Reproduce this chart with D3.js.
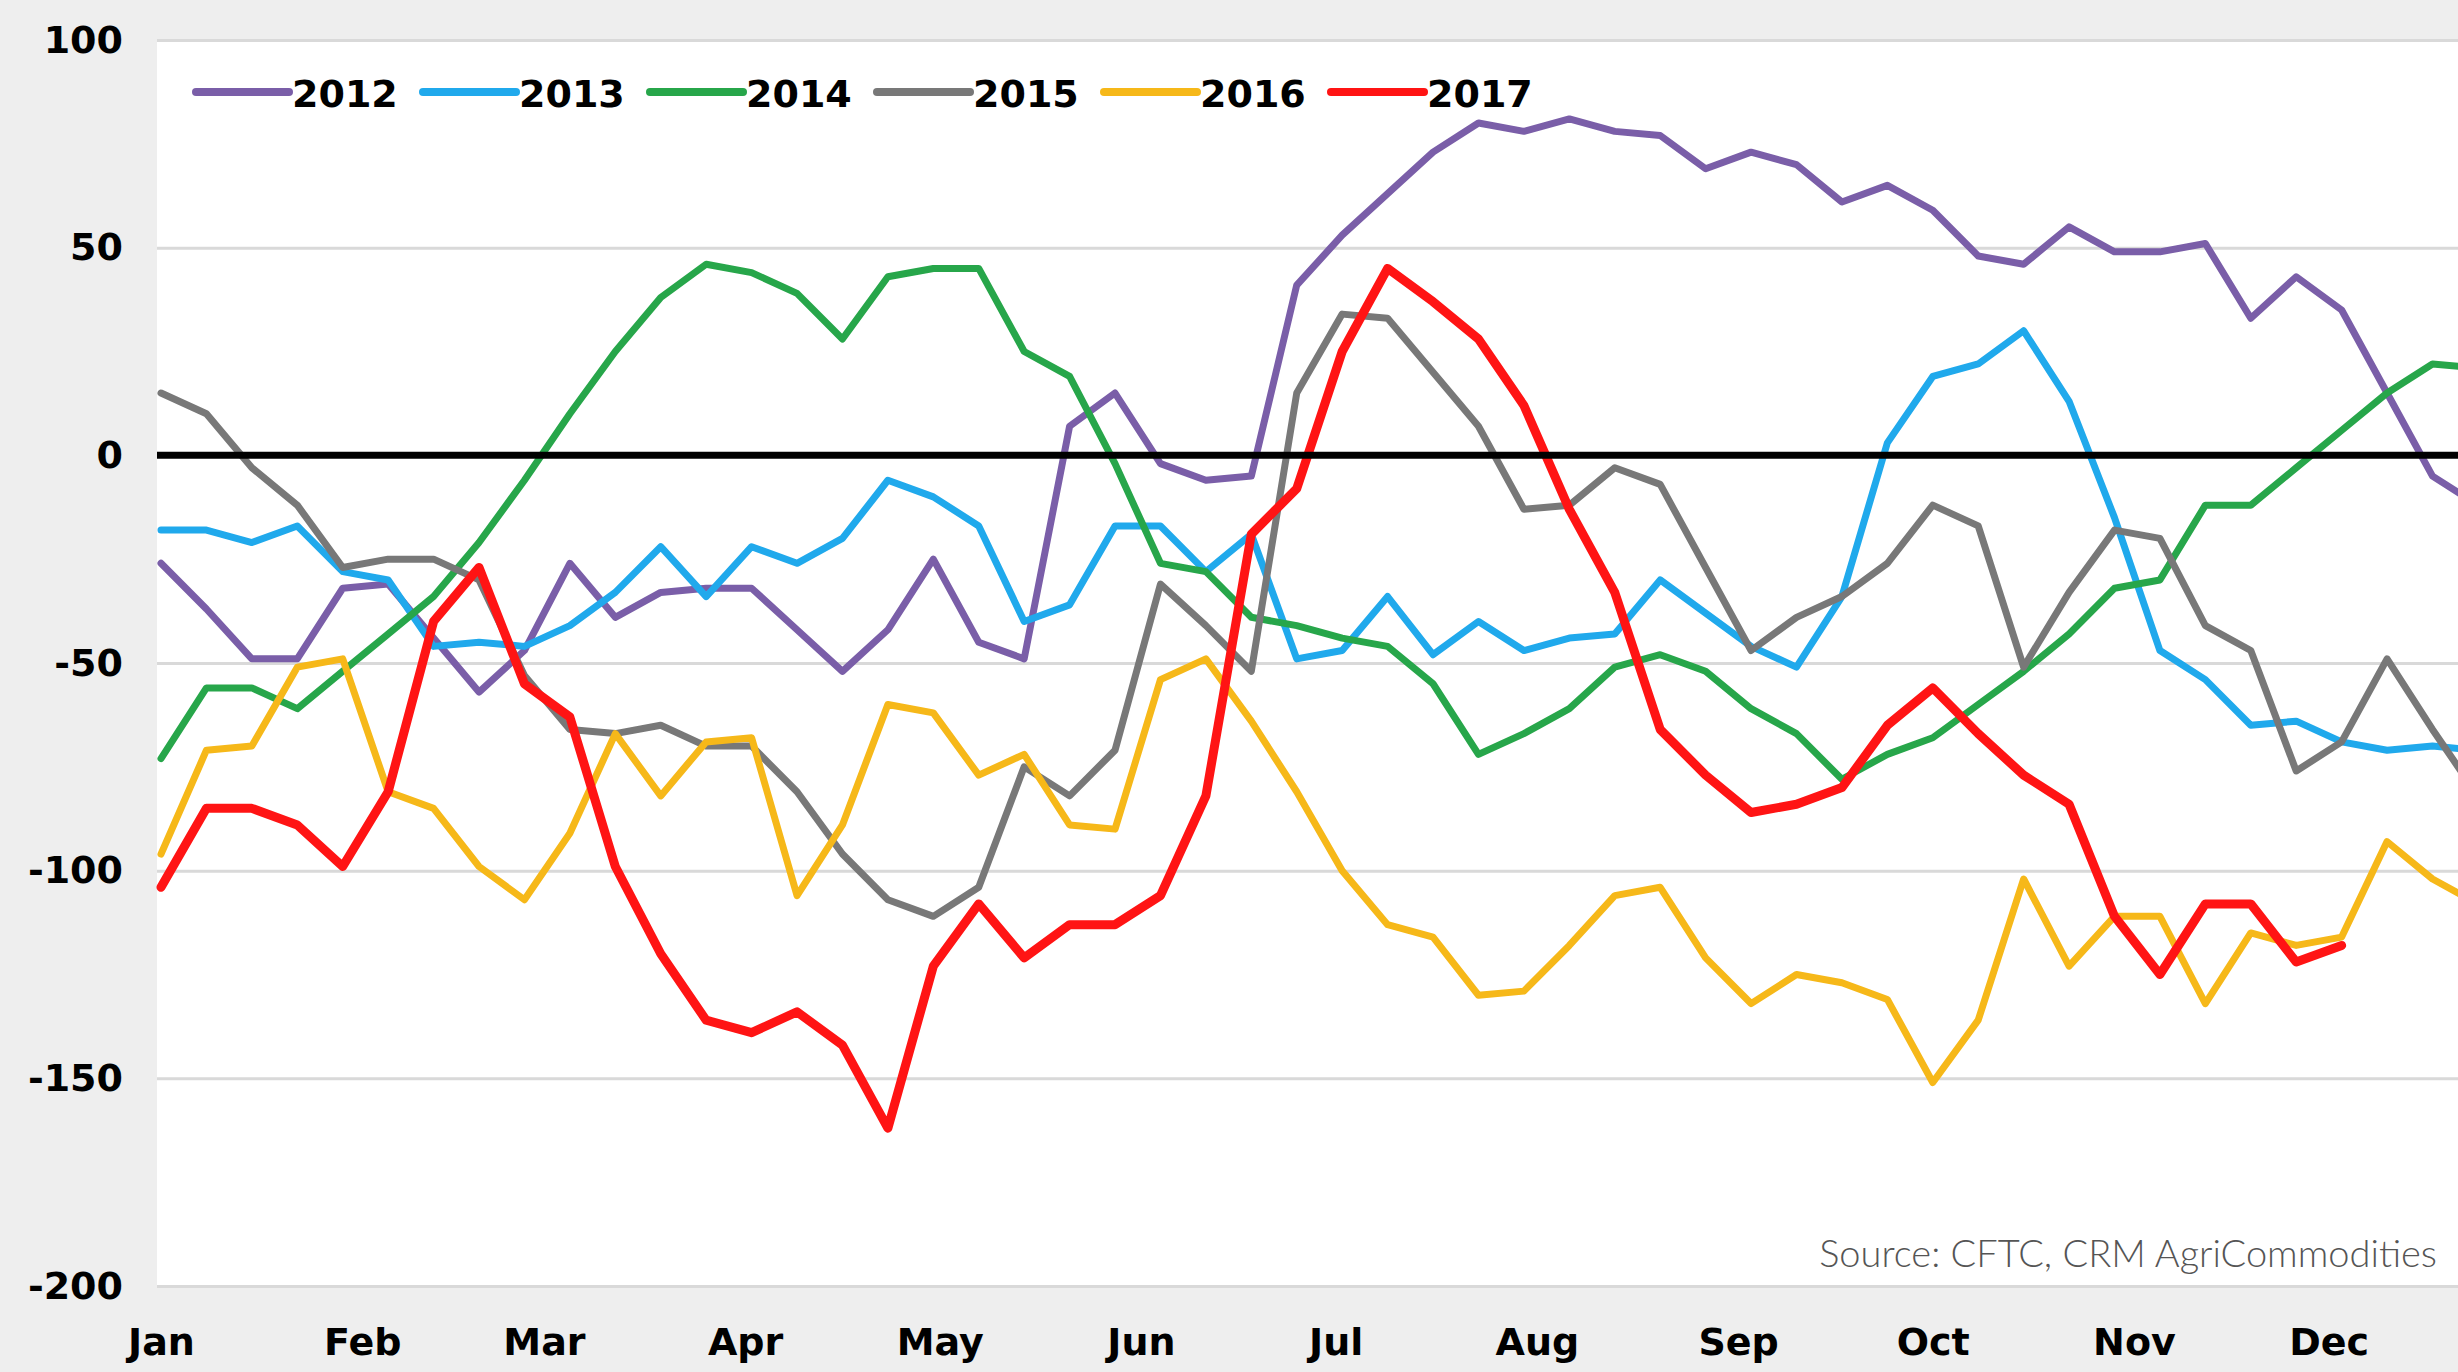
<!DOCTYPE html>
<html>
<head>
<meta charset="utf-8">
<script src="https://cdn.jsdelivr.net/npm/d3@7"></script>
<style>
    html, body { margin: 0; padding: 0; background: #eeeeee; }
    svg { display: block; }
</style>
</head>
<body>
<svg id="line-chart" width="2458" height="1372"></svg>
<script>
/**
 * Series names, one per season
 */
const years = ['2012', '2013', '2014', '2015', '2016', '2017'];

/**
 * Weekly net positions (week 0 = first week of Jan)
 */
const values2012 = [-26, -37, -49, -49, -32, -31, -44, -57, -47, -26, -39, -33, -32, -32, -42, -52, -42, -25, -45, -49,
    7, 15, -2, -6, -5, 41, 53, 63, 73, 80, 78, 81, 78, 77, 69, 73, 70, 61, 65, 59, 48, 46, 55, 49, 49, 51, 33, 43, 35, 15, -5, -12];
const values2013 = [-18, -18, -21, -17, -28, -30, -46, -45, -46, -41, -33, -22, -34, -22, -26, -20, -6, -10, -17, -40,
    -36, -17, -17, -28, -19, -49, -47, -34, -48, -40, -47, -44, -43, -30, -38, -46, -51, -34, 3, 19, 22, 30, 13, -15, -47, -54, -65, -64, -69, -71, -70, -71];
const values2014 = [-73, -56, -56, -61, -52, -43, -34, -21, -6, 10, 25, 38, 46, 44, 39, 28, 43, 45, 45, 25,
    19, -2, -26, -28, -39, -41, -44, -46, -55, -72, -67, -61, -51, -48, -52, -61, -67, -78, -72, -68, -60, -52, -43, -32, -30, -12, -12, -3, 6, 15, 22, 21];
const values2015 = [15, 10, -3, -12, -27, -25, -25, -30, -53, -66, -67, -65, -70, -70, -81, -96, -107, -111, -104, -75,
    -82, -71, -31, -41, -52, 15, 34, 33, 20, 7, -13, -12, -3, -7, -27, -47, -39, -34, -26, -12, -17, -51, -33, -18, -20, -41, -47, -76, -69, -49, -66, -82];
const values2016 = [-96, -71, -70, -51, -49, -81, -85, -99, -107, -91, -67, -82, -69, -68, -106, -89, -60, -62, -77, -72,
    -89, -90, -54, -49, -64, -81, -100, -113, -116, -130, -129, -118, -106, -104, -121, -132, -125, -127, -131, -151, -136, -102, -123, -111, -111, -132, -115, -118, -116, -93, -102, -108];
const values2017 = [-104, -85, -85, -89, -99, -81, -40, -27, -55, -63, -99, -120, -136, -139, -134, -142, -162, -123, -108, -121,
    -113, -113, -106, -82, -19, -8, 25, 45, 37, 28, 12, -13, -33, -66, -77, -86, -84, -80, -65, -56, -67, -77, -84, -111, -125, -108, -108, -122, -118];

/**
 * Y axis tick values
 */
const yTicks = [100, 50, 0, -50, -100, -150, -200];

/**
 * Footnote text
 */
const sourceNote = 'Source: CFTC, CRM AgriCommodities';

const seriesValues = [values2012, values2013, values2014, values2015, values2016, values2017];
const seriesColors = ['#7a5ea8', '#20a9ec', '#27a64a', '#787878', '#f6b819', '#ff1414'];
const seriesWidths = [7, 7, 7, 7, 7, 9];

const svgTag = d3.select('#line-chart');

const layout = {
    width: 2458,
    height: 1372,
    plotLeft: 157,
    plotTop: 40,
    plotBottom: 1286,
    firstPoint: 161,
    pxPerDay: 6.49,
    fontSize: 38
};

const firstWeek = new Date(2017, 0, 1);

function weekDate(i) {
    return d3.timeDay.offset(firstWeek, 7 * i);
}

function assembleXScale() {
    const end = d3.timeDay.offset(firstWeek, 365);
    return d3.scaleTime()
        .domain([firstWeek, end])
        .range([layout.firstPoint, layout.firstPoint + 365 * layout.pxPerDay]);
}

function assembleYScale() {
    return d3.scaleLinear().domain([-200, 100]).range([layout.plotBottom, layout.plotTop]);
}

function drawBackground() {
    svgTag.append('rect')
        .attr('width', layout.width)
        .attr('height', layout.height)
        .attr('fill', '#eeeeee');
    svgTag.append('rect')
        .attr('x', layout.plotLeft)
        .attr('y', layout.plotTop)
        .attr('width', layout.width - layout.plotLeft)
        .attr('height', layout.plotBottom - layout.plotTop)
        .attr('fill', '#ffffff');
}

function drawGrid(yScale) {
    const grid = svgTag.append('g')
        .attr('transform', `translate(${layout.plotLeft}, 0)`)
        .call(d3.axisLeft(yScale)
            .tickValues(yTicks)
            .tickSize(-(layout.width - layout.plotLeft))
            .tickFormat(''));
    grid.select('.domain').remove();
    grid.selectAll('.tick line')
        .attr('stroke', '#d9d9d9')
        .attr('stroke-width', 3);
}

function drawYAxis(yScale) {
    const axis = svgTag.append('g')
        .attr('transform', `translate(${layout.plotLeft}, 0)`)
        .call(d3.axisLeft(yScale)
            .tickValues(yTicks)
            .tickFormat((d) => String(d))
            .tickSize(0)
            .tickPadding(34));
    axis.select('.domain').remove();
    axis.selectAll('text')
        .attr('font-family', '"DejaVu Sans", sans-serif')
        .attr('font-weight', 'bold')
        .attr('font-size', layout.fontSize)
        .attr('fill', '#000');
}

function drawXAxis(xScale) {
    // one label per month of the year, the next January lies outside the picture
    const months = d3.timeMonth.range(firstWeek, new Date(2017, 11, 2));
    const axis = svgTag.append('g')
        .attr('transform', `translate(0, ${layout.plotBottom})`)
        .call(d3.axisBottom(xScale)
            .tickValues(months)
            .tickFormat(d3.timeFormat('%b'))
            .tickSize(0)
            .tickPadding(42));
    axis.select('.domain').remove();
    axis.selectAll('text')
        .attr('font-family', '"DejaVu Sans", sans-serif')
        .attr('font-weight', 'bold')
        .attr('font-size', layout.fontSize)
        .attr('fill', '#000');
}

function drawLines(xScale, yScale) {
    const line = d3.line()
        .x((d, i) => xScale(weekDate(i)))
        .y((d) => yScale(d));

    svgTag.append('g')
        .selectAll('path')
        .data(seriesValues)
        .enter()
        .append('path')
        .attr('d', (d) => line(d))
        .attr('fill', 'none')
        .attr('stroke', (d, i) => seriesColors[i])
        .attr('stroke-width', (d, i) => seriesWidths[i])
        .attr('stroke-linejoin', 'round')
        .attr('stroke-linecap', 'round');
}

function drawZeroLine(yScale) {
    svgTag.append('line')
        .attr('x1', layout.plotLeft)
        .attr('x2', layout.width)
        .attr('y1', yScale(0))
        .attr('y2', yScale(0))
        .attr('stroke', '#000')
        .attr('stroke-width', 7);
}

function drawLegend() {
    const legend = svgTag.append('g')
        .attr('transform', 'translate(196, 92)');
    const item = legend.selectAll('g')
        .data(years)
        .enter()
        .append('g')
        .attr('transform', (d, i) => `translate(${i * 227}, 0)`);
    item.append('line')
        .attr('x1', 0)
        .attr('x2', 93)
        .attr('stroke', (d, i) => seriesColors[i])
        .attr('stroke-width', 8)
        .attr('stroke-linecap', 'round');
    item.append('text')
        .text((d) => d)
        .attr('x', 96)
        .attr('y', 15)
        .attr('font-family', '"DejaVu Sans", sans-serif')
        .attr('font-weight', 'bold')
        .attr('font-size', layout.fontSize)
        .attr('fill', '#000');
}

function drawSource() {
    svgTag.append('text')
        .text(sourceNote)
        .attr('x', 2437)
        .attr('y', 1267)
        .attr('text-anchor', 'end')
        .attr('font-family', 'Lato, "Open Sans", sans-serif')
        .attr('font-weight', 300)
        .attr('font-size', 38)
        .attr('fill', '#555555');
}

function draw() {
    svgTag.selectAll('*').remove();
    const xScale = assembleXScale();
    const yScale = assembleYScale();

    drawBackground();
    drawGrid(yScale);
    drawYAxis(yScale);
    drawXAxis(xScale);
    drawLines(xScale, yScale);
    drawZeroLine(yScale);
    drawLegend();
    drawSource();
}

draw();
</script>
</body>
</html>
